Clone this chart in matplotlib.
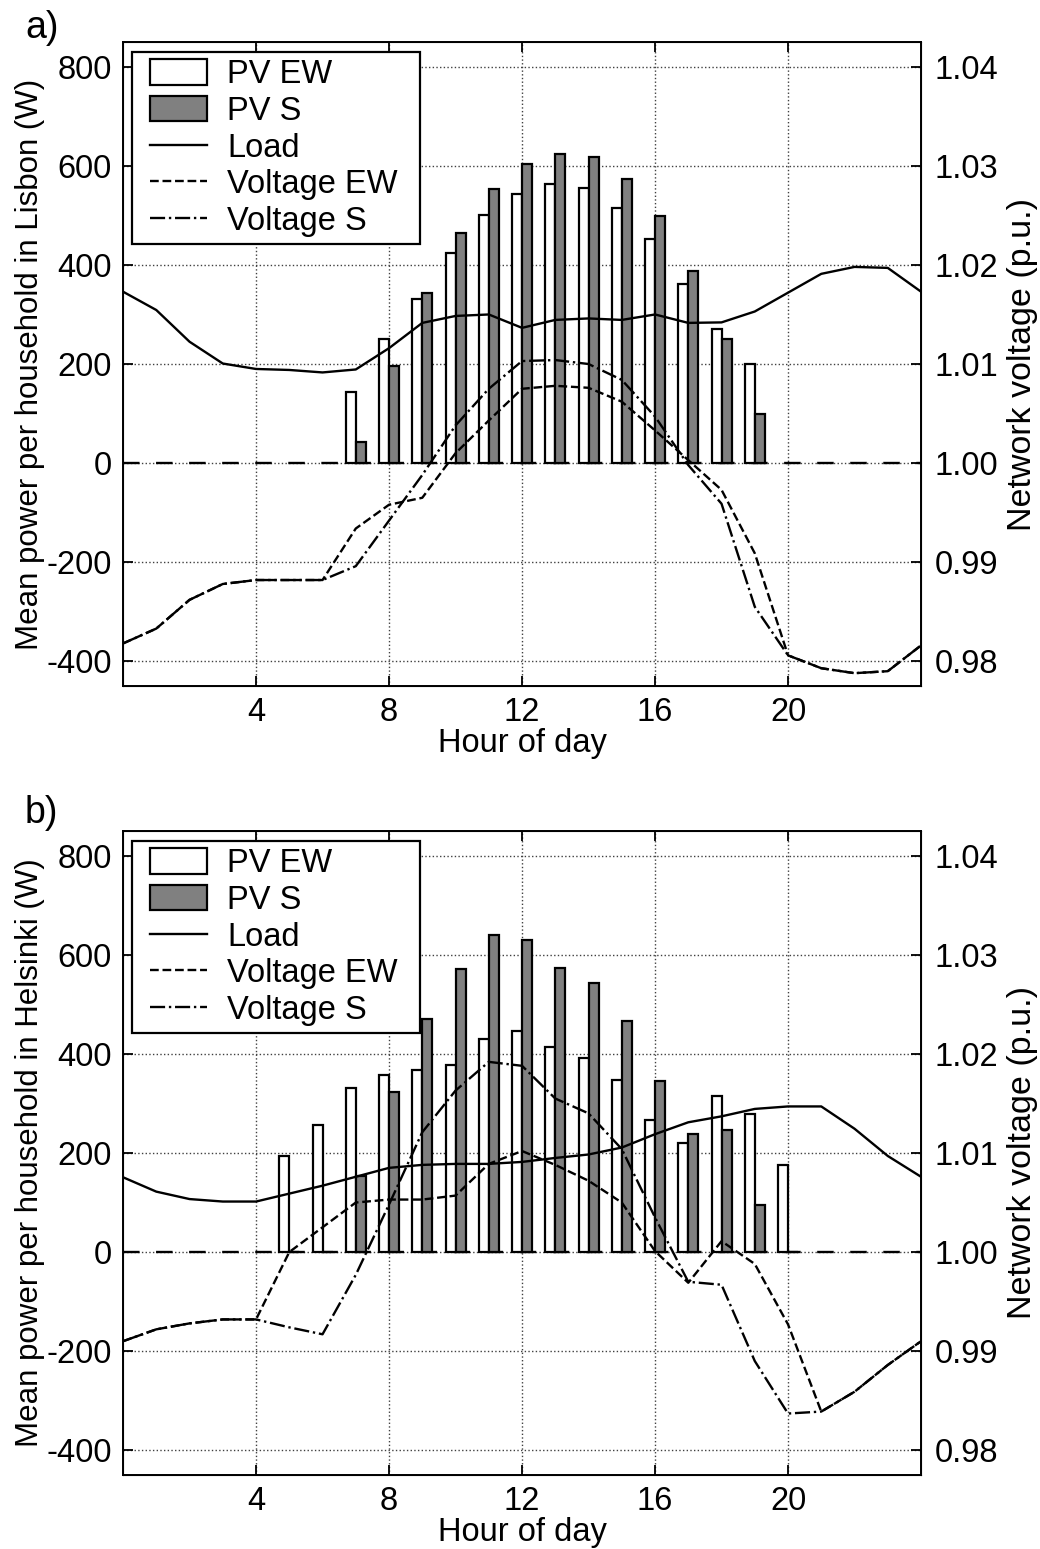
import numpy as np
import matplotlib
matplotlib.use('Agg')
import matplotlib.pyplot as plt
from matplotlib.patches import Patch
from matplotlib.lines import Line2D
from matplotlib.legend_handler import HandlerPatch, HandlerLine2D
from matplotlib.ticker import FormatStrFormatter

plt.rcParams['font.family'] = ['Liberation Sans', 'DejaVu Sans']
plt.rcParams['font.size'] = 23.5
plt.rcParams['axes.unicode_minus'] = False

# ---------------- data ----------------
hours = np.arange(25)                 # line vertices, hour 0..24
bar_hours_a = np.arange(7, 20)        # Lisbon PV, 7..19
bar_hours_b = np.arange(5, 21)        # Helsinki PV, 5..20

# a) Lisbon
pv_ew_a = [143, 250, 331, 425, 500, 543, 564, 556, 514, 452, 362, 271, 200]
pv_s_a = [43, 195, 344, 465, 553, 603, 623, 617, 573, 498, 387, 251, 100]
load_a = [346, 309, 245, 201, 190, 188, 183, 189, 232, 283, 297, 300, 273,
          289, 292, 289, 300, 283, 284, 306, 344, 382, 396, 394, 346]
volt_ew_a = [0.9818, 0.9833, 0.9862, 0.9878, 0.9882, 0.9882, 0.9882, 0.9934,
             0.9958, 0.9965, 1.0010, 1.0043, 1.0075, 1.0078, 1.0076, 1.0062,
             1.0033, 1.0003, 0.9973, 0.9909, 0.9806, 0.9793, 0.9788, 0.9790,
             0.9816]
volt_s_a = [0.9818, 0.9833, 0.9862, 0.9878, 0.9882, 0.9882, 0.9882, 0.9896,
            0.9942, 0.9988, 1.0038, 1.0075, 1.0103, 1.0104, 1.0100, 1.0084,
            1.0047, 0.9998, 0.9959, 0.9855, 0.9806, 0.9793, 0.9788, 0.9790,
            0.9816]

# b) Helsinki
pv_ew_b = [193, 257, 332, 358, 367, 378, 430, 446, 413, 392, 348, 267, 221,
           316, 278, 176]
pv_s_b = [0, 0, 153, 324, 470, 571, 640, 630, 574, 544, 467, 346, 238, 247,
          95, 0]
load_b = [151, 122, 107, 102, 102, 118, 134, 152, 170, 176, 178, 178, 182,
          190, 197, 211, 238, 262, 274, 289, 294, 294, 249, 194, 152]
volt_ew_b = [0.9910, 0.9922, 0.9928, 0.9932, 0.9932, 1.0000, 1.0025, 1.0050,
             1.0053, 1.0053, 1.0057, 1.0089, 1.0102, 1.0088, 1.0072, 1.0050,
             1.0001, 0.9969, 1.0011, 0.9988, 0.9927, 0.9839, 0.9859, 0.9886,
             0.9910]
volt_s_b = [0.9910, 0.9922, 0.9928, 0.9932, 0.9932, 0.9924, 0.9917, 0.9977,
            1.0048, 1.0121, 1.0163, 1.0192, 1.0188, 1.0155, 1.0140, 1.0104,
            1.0035, 0.9970, 0.9967, 0.9890, 0.9837, 0.9839, 0.9859, 0.9886,
            0.9910]

GRAY = '#808080'
BW = 0.3
LW = 1.7


def draw_panel(ax, bh, pv_ew, pv_s, load, v_ew, v_s, ylabel):
    ax.set_axisbelow(True)
    ax.axhline(0, color='black', lw=LW, ls=(0, (7, 7)), zorder=1)
    ax.bar(bh - BW / 2, pv_ew, width=BW, color='white', edgecolor='black',
           lw=1.6, zorder=2)
    ax.bar(bh + BW / 2, pv_s, width=BW, color=GRAY, edgecolor='black',
           lw=1.6, zorder=2)
    ax.plot(hours, load, color='black', lw=LW, zorder=3)
    ax.set_xlim(0, 24)
    ax.set_ylim(-450, 850)
    ax.set_xticks([4, 8, 12, 16, 20])
    ax.set_yticks(np.arange(-400, 801, 200))
    ax.grid(True, ls=':', color='0.25', lw=1.0)
    ax.tick_params(direction='in', length=7, width=1.3, top=True, pad=8)
    ax.set_xlabel('Hour of day', labelpad=0)
    ax.set_ylabel(ylabel, fontsize=22.5)
    ax.yaxis.set_label_coords(-0.098, 0.5)
    for sp in ax.spines.values():
        sp.set_linewidth(1.4)

    ax2 = ax.twinx()
    ax2.plot(hours, v_ew, color='black', lw=LW, ls='--')
    ax2.plot(hours, v_s, color='black', lw=LW, ls='-.')
    ax2.set_ylim(0.9775, 1.0425)
    ax2.set_yticks(np.arange(0.98, 1.0401, 0.01))
    ax2.yaxis.set_major_formatter(FormatStrFormatter('%.2f'))
    ax2.tick_params(direction='in', length=7, width=1.3, pad=10)
    ax2.set_ylabel('Network voltage (p.u.)', fontsize=24.5, labelpad=6)

    # MATLAB-like legend: fixed width box, handles set in from the left edge
    handles = [Patch(facecolor='white', edgecolor='black', lw=1.6),
               Patch(facecolor=GRAY, edgecolor='black', lw=1.6),
               Line2D([], [], color='black', lw=LW),
               Line2D([], [], color='black', lw=LW, ls='--'),
               Line2D([], [], color='black', lw=LW, ls='-.')]
    labels = ['PV EW', 'PV S', 'Load', 'Voltage EW', 'Voltage S']
    hmap = {Patch: HandlerPatch(xpad=0.33), Line2D: HandlerLine2D(xpad=0.33)}
    leg = ax2.legend(handles, labels, loc='upper left', mode='expand',
                     bbox_to_anchor=(0.0113, 0.5, 0.361, 0.4845),
                     borderaxespad=0, handler_map=hmap,
                     fancybox=False, edgecolor='black', framealpha=1,
                     handlelength=2.09, handleheight=0.83, handletextpad=0.6,
                     labelspacing=0.17, borderpad=0.22, fontsize=23.5)
    leg.get_frame().set_linewidth(1.6)
    return ax2


fig = plt.figure(figsize=(10.4, 15.49), dpi=100)
ax_a = fig.add_axes([0.1183, 0.5571, 0.7673, 0.4158])
ax_b = fig.add_axes([0.1183, 0.0478, 0.7673, 0.4157])

draw_panel(ax_a, bar_hours_a, pv_ew_a, pv_s_a, load_a, volt_ew_a, volt_s_a,
           'Mean power per household in Lisbon (W)')
draw_panel(ax_b, bar_hours_b, pv_ew_b, pv_s_b, load_b, volt_ew_b, volt_s_b,
           'Mean power per household in Helsinki (W)')

fig.text(0.024, 1 - 38 / 1549, 'a)', fontsize=27, va='baseline')
fig.text(0.024, 1 - 823 / 1549, 'b)', fontsize=27, va='baseline')

fig.savefig('out.png', dpi=100)
